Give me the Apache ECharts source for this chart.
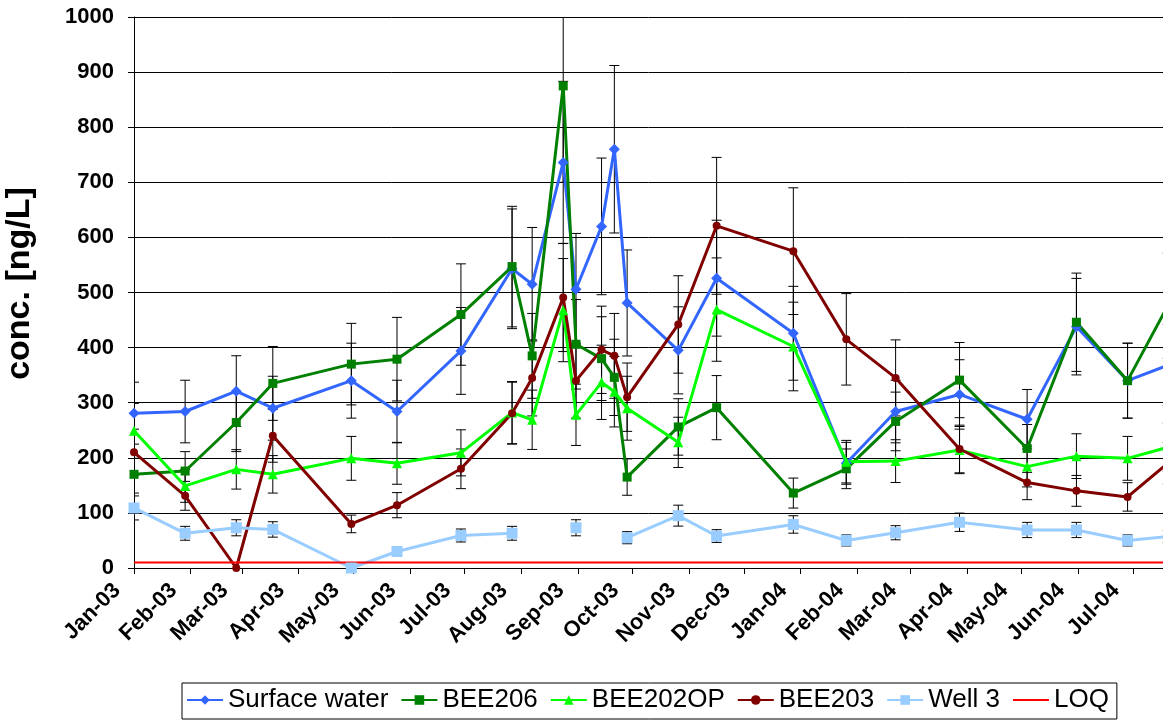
<!DOCTYPE html>
<html>
<head>
<meta charset="utf-8">
<script src="https://cdn.jsdelivr.net/npm/echarts@6/dist/echarts.min.js"></script>
<style>
html,body{margin:0;padding:0;background:#fff;}
#chart{width:1163px;height:720px;}
</style>
</head>
<body>
<div id="chart"></div>
<script>
// ---- data ----
const sampleDates = ['2003-01-01','2003-01-29','2003-02-26','2003-03-18','2003-04-30','2003-05-25','2003-06-29',
  '2003-07-27','2003-08-07','2003-08-24','2003-08-31','2003-09-14','2003-09-21','2003-09-28','2003-10-26',
  '2003-11-16','2003-12-28','2004-01-26','2004-02-22','2004-03-28','2004-05-04','2004-05-31','2004-06-28','2004-07-20'];
const surfaceWater = [281,284,321,290,340,284,394,543,515,736,506,620,760,481,395,526,426,190,284,315,270,438,340,368];
const bee206       = [170,176,264,335,370,379,460,547,385,875,406,380,346,165,256,291,136,180,266,341,217,446,340,476];
const bee202op     = [249,149,179,170,199,190,209,282,269,468,278,337,320,290,228,469,402,193,194,214,184,203,199,219];
const bee203       = [210,131,0,240,80,114,180,281,345,491,340,396,385,310,442,621,575,415,345,216,155,140,129,190];
const well3        = [109,63,73,70,0,30,59,63,null,null,73,null,null,55,95,58,79,50,64,83,69,69,50,57];
const loqValue = 10;
const errorPercent = 20; // percentage error bars
const seriesNames = ['Surface water','BEE206','BEE202OP','BEE203','Well 3','LOQ'];
const monthLabels = ['Jan','Feb','Mar','Apr','May','Jun','Jul','Aug','Sep','Oct','Nov','Dec'];
const axisStart = '2003-01-01';
const axisEndDays = 563.4;
const yTicks = {min: 0, max: 1000, step: 100};

// ---- build ----
const DAY = 86400000;
const t = s => new Date(s + 'T00:00:00Z').getTime();
const xMin = t(axisStart);
const xMax = xMin + axisEndDays * DAY;
const pair = arr => sampleDates.map((d, i) => [t(d), arr[i]]);

const allValues = [surfaceWater, bee206, bee202op, bee203, well3];
const errData = [];
allValues.forEach(arr => arr.forEach((v, i) => {
  if (v !== null && v > 0) errData.push([t(sampleDates[i]), v * (1 - errorPercent/100), v * (1 + errorPercent/100)]);
}));

const font = 'Liberation Sans, Arial, sans-serif';

function lineSeries(name, data, color, symbol, size) {
  return {
    name, type: 'line', data: pair(data), color,
    symbol, symbolSize: size, showAllSymbol: true, connectNulls: false,
    lineStyle: {width: 3, color}, itemStyle: {color, borderWidth: 0},
    z: 3, clip: true
  };
}

const chart = echarts.init(document.getElementById('chart'));
chart.setOption({
  animation: false,
  useUTC: true,
  backgroundColor: '#fff',
  grid: {left: 134, right: 0, top: 17, bottom: 152, containLabel: false, outerBoundsMode: 'none'},
  xAxis: {
    type: 'time', min: xMin, max: xMax,
    splitNumber: 19, minInterval: 28 * DAY, maxInterval: 31 * DAY,
    axisLine: {show: true, lineStyle: {color: '#000', width: 1}},
    axisTick: {show: true, length: 6, lineStyle: {color: '#000'}},
    minorTick: {show: false},
    splitLine: {show: false},
    axisLabel: {
      rotate: 45, margin: 2, padding: [0, 24, 0, 0],
      fontFamily: font, fontSize: 22, fontWeight: 'bold', color: '#000',
      hideOverlap: false, showMaxLabel: false,
      formatter: function (v) {
        const d = new Date(v);
        if (d.getUTCDate() !== 1 || d.getUTCHours() !== 0) return '';
        return monthLabels[d.getUTCMonth()] + '-' + String(d.getUTCFullYear()).slice(2);
      }
    }
  },
  yAxis: {
    type: 'value', min: yTicks.min, max: yTicks.max, interval: yTicks.step,
    name: 'conc. [ng/L]', nameLocation: 'middle', nameGap: 97, nameRotate: 90,
    nameTextStyle: {fontFamily: font, fontSize: 34, fontWeight: 'bold', color: '#000', padding: [0, 0, 0, 18]},
    axisLine: {show: true, lineStyle: {color: '#000', width: 1}},
    axisTick: {show: true, length: 6, lineStyle: {color: '#000'}},
    splitLine: {show: true, lineStyle: {color: '#000', width: 1}},
    axisLabel: {fontFamily: font, fontSize: 22, fontWeight: 'bold', color: '#000', margin: 20,
      formatter: v => String(v)}
  },
  legend: {
    data: seriesNames.map(n => n === 'LOQ' ? {name: n, itemStyle: {opacity: 0}} : n),
    left: 182, top: 683,
    padding: [4, 8, 6, 4],
    itemGap: 12, itemWidth: 36, itemHeight: 12,
    borderColor: '#000', borderWidth: 1,
    textStyle: {fontFamily: font, fontSize: 26, color: '#000'}
  },
  series: [
    {
      type: 'custom', z: 1, clip: true, silent: true,
      data: errData,
      renderItem: function (params, api) {
        const x = api.value(0);
        const lo = api.coord([x, api.value(1)]);
        const hi = api.coord([x, api.value(2)]);
        const w = 5;
        const style = {stroke: '#000', lineWidth: 1};
        return {
          type: 'group',
          children: [
            {type: 'line', shape: {x1: lo[0], y1: lo[1], x2: hi[0], y2: hi[1]}, style},
            {type: 'line', shape: {x1: lo[0]-w, y1: lo[1], x2: lo[0]+w, y2: lo[1]}, style},
            {type: 'line', shape: {x1: hi[0]-w, y1: hi[1], x2: hi[0]+w, y2: hi[1]}, style}
          ]
        };
      }
    },
    lineSeries('Surface water', surfaceWater, '#3366FF', 'diamond', 11),
    lineSeries('BEE206', bee206, '#008000', 'rect', 9),
    lineSeries('BEE202OP', bee202op, '#00FF00', 'triangle', 10),
    lineSeries('BEE203', bee203, '#800000', 'circle', 8),
    lineSeries('Well 3', well3, '#99CCFF', 'rect', 11),
    {
      name: 'LOQ', type: 'line', color: '#FF0000', symbol: 'none',
      data: [[xMin, loqValue], [xMax, loqValue]],
      lineStyle: {width: 2, color: '#FF0000'}, z: 3
    }
  ]
});
</script>
</body>
</html>
